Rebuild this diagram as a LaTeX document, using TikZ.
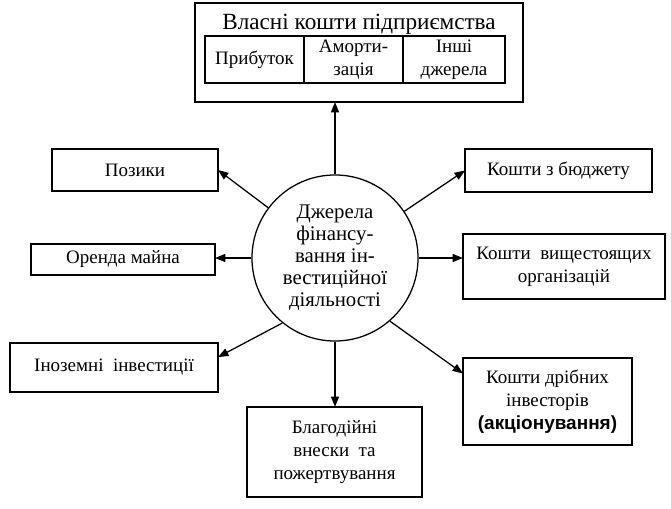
\documentclass[tikz,border=0pt]{standalone}
\usepackage{fontspec}
\setmainfont{Liberation Serif}
\newfontfamily\boldsans{Liberation Sans}
\usetikzlibrary{arrows.meta}

\begin{document}
\begin{tikzpicture}[x=0.025cm,y=0.025cm,
    box/.style={draw,line width=1pt,align=center,inner sep=0pt,outer sep=0pt},
    arr/.style={line width=0.9pt,-{Triangle[length=2.6mm,width=2mm]}},
    font=\fontsize{13.5}{16.5}\selectfont]
    \useasboundingbox (0,0) rectangle (671,508);
    % own funds with three parts
    \node[box,minimum width=8.2cm,minimum height=2.475cm] (vlasni) at (359,455.5) {};
    \node[font=\fontsize{16.5}{19}\selectfont] (nazva) at (359,484) {Власні кошти підприємства};
    \node[box,minimum width=2.475cm,minimum height=1.175cm] (prybutok) at (254.5,448.5) {Прибуток};
    \node[box,minimum width=2.475cm,minimum height=1.175cm] (amort) at (353.5,448.5) {Аморти-\\зація};
    \node[box,minimum width=2.55cm,minimum height=1.175cm] (inshi) at (454,448.5) {Інші\\джерела};
    % centre
    \node[draw,circle,line width=0.9pt,minimum size=4.15cm,inner sep=0pt,align=center,
          font=\fontsize{14.8}{15.6}\selectfont] (kolo) at (335,250)
        {Джерела\\фінансу-\\вання ін-\\вестиційної\\діяльності};
    % left side
    \node[box,minimum width=4.15cm,minimum height=1.05cm] (pozyky) at (135,338) {Позики};
    \node[box,minimum width=4.6cm,minimum height=0.775cm] (orenda) at (123,248.5) {Оренда майна};
    \node[box,minimum width=5.2cm,minimum height=1.225cm] (inozemni) at (114,140.5) {Іноземні~~інвестиції};
    % right side
    \node[box,minimum width=4.675cm,minimum height=1.075cm] (budzhet) at (558.5,337.5) {Кошти з бюджету};
    \node[box,minimum width=5.05cm,minimum height=1.625cm] (vyshch) at (564,241.5) {Кошти~~вищестоящих\\організацій};
    \node[box,minimum width=4.225cm,minimum height=2.175cm] (dribni) at (547.5,106.5)
        {Кошти дрібних\\інвесторів\\{\boldsans\bfseries (акціонування)}};
    % bottom
    \node[box,minimum width=4.375cm,minimum height=2.25cm] (blago) at (334.5,56)
        {Благодійні\\внески~~та\\пожертвування};

    \draw[arr] (kolo.north) -- (kolo.north |- vlasni.south);
    \draw[arr] (kolo) -- (pozyky.east);
    \draw[arr] (kolo.west) -- (kolo.west -| orenda.east);
    \draw[arr] (kolo.231) -- ([yshift=0.26cm]inozemni.east);
    \draw[arr] (kolo) -- (budzhet.west);
    \draw[arr] (kolo.east) -- (kolo.east -| vyshch.west);
    \draw[arr] (kolo.-49) -- ([yshift=0.7cm]dribni.west);
    \draw[arr] (kolo.south) -- (kolo.south |- blago.north);
\end{tikzpicture}
\end{document}
